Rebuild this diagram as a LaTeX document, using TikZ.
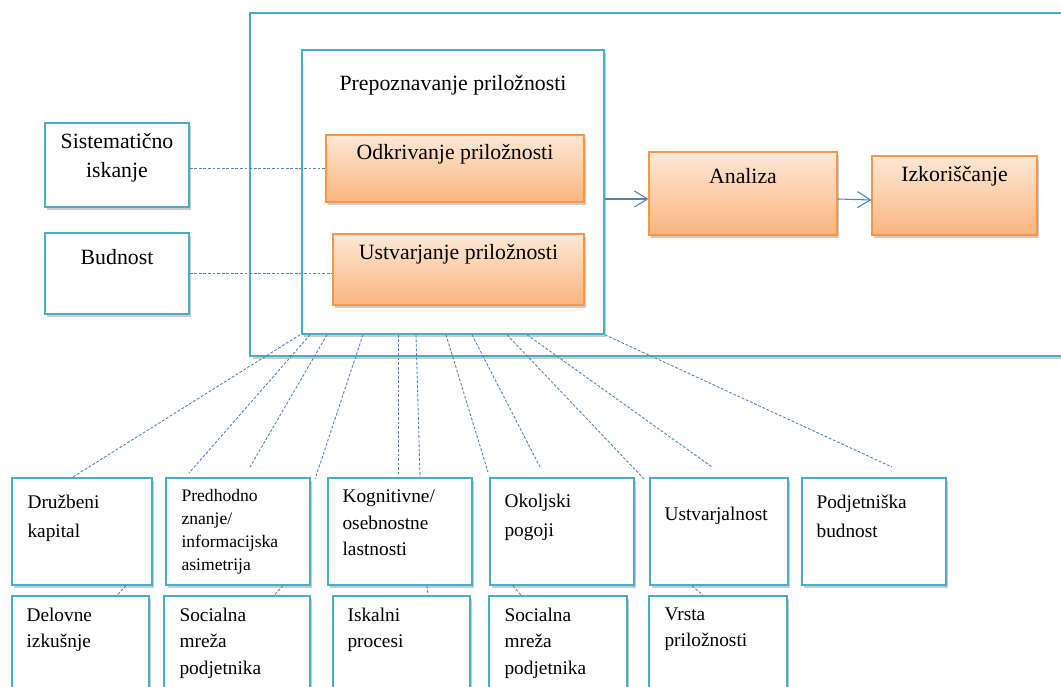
\documentclass[tikz,border=0pt]{standalone}
\usepackage{fontspec}
\setmainfont{Liberation Serif}
\usetikzlibrary{calc,positioning,shadows,arrows.meta}

\definecolor{boxblue}{HTML}{4BACC6}
\definecolor{lineblue}{HTML}{4F81BD}
\definecolor{orangeline}{HTML}{F79646}
\definecolor{peach}{HTML}{FDE8D6}
\definecolor{peachdark}{HTML}{FBB57F}

\begin{document}
\begin{tikzpicture}
[x=0.02cm,y=-0.02cm,>={Straight Barb[length=2.6mm,width=3.2mm]},
 bluebox/.style={draw=boxblue,line width=0.9pt,fill=white,inner sep=0pt,
   drop shadow={shadow xshift=1.4pt,shadow yshift=-1.6pt,opacity=.4}},
 orangebox/.style={draw=orangeline,line width=0.7pt,top color=peach,bottom color=peachdark,inner sep=0pt,
   drop shadow={shadow xshift=1.4pt,shadow yshift=-1.6pt,opacity=.4}},
 toptxt/.style={font=\fontsize{12.4}{16.5}\selectfont,align=center,inner sep=0pt},
 lowtxt/.style={font=\fontsize{11}{15}\selectfont,align=left,inner sep=0pt,anchor=north west},
 link/.style={draw=lineblue,line width=0.5pt,dash pattern=on 1.6pt off 1pt},
 arr/.style={->,draw=lineblue,line width=0.6pt},]
\useasboundingbox (0,0) rectangle (1061,686);

% upper part
\node (frame) at (662.5,184.5)[bluebox,minimum width=16.5cm,minimum height=6.86cm] {};
\node (prep) at (453,192)[bluebox,minimum width=6.04cm,minimum height=5.68cm] {};
\node (prepT) at ($(prep.north)+(0,36)$)[toptxt] {Prepoznavanje priložnosti};
\node (odkr) at (455,168.5)[orangebox,minimum width=5.16cm,minimum height=1.34cm] {};
\node (odkrT) at ($(odkr.north)+(0,20)$)[toptxt] {Odkrivanje priložnosti};
\node (ustv) at (458.5,269.5)[orangebox,minimum width=5.02cm,minimum height=1.42cm] {};
\node (ustvT) at ($(ustv.north)+(0,21)$)[toptxt] {Ustvarjanje priložnosti};

\node (sist) at (117,165)[bluebox,minimum width=2.88cm,minimum height=1.68cm] {};
\node (sistT) at ($(sist.north)+(0,35.5)$)[toptxt] {Sistematično\\iskanje};
\node (budn) at (117,273.5)[bluebox,minimum width=2.88cm,minimum height=1.62cm] {};
\node (budnT) at ($(budn.north)+(0,25)$)[toptxt] {Budnost};

\node (anal) at (743,193.5)[orangebox,minimum width=3.76cm,minimum height=1.66cm] {};
\node (analT) at ($(anal.north)+(0,25)$)[toptxt] {Analiza};
\node (izko) at (954.5,195.5)[orangebox,minimum width=3.3cm,minimum height=1.58cm] {};
\node (izkoT) at ($(izko.north)+(0,21)$)[toptxt] {Izkoriščanje};

\draw[link] (sist.east|-odkr.west)--(odkr.west);
\draw[link] (budn.east)--(ustv.west|-budn.east);
\draw[arr] ($(prep.east|-anal.west)+(0,5.5)$)--($(anal.west)+(0,5.5)$);
\draw[arr] ($(anal.east)+(0,5.5)$)--($(izko.west)+(0,4.5)$);

% lower part
\node (druz) at (82,531.5)[bluebox,minimum width=2.8cm,minimum height=2.14cm] {};
\node (pred) at (238,531.5)[bluebox,minimum width=2.88cm,minimum height=2.14cm] {};
\node (kogn) at (400,531.5)[bluebox,minimum width=2.88cm,minimum height=2.14cm] {};
\node (okol) at (562,531.5)[bluebox,minimum width=2.88cm,minimum height=2.14cm] {};
\node (ustj) at (719,531.5)[bluebox,minimum width=2.76cm,minimum height=2.14cm] {};
\node (podj) at (874,531.5)[bluebox,minimum width=2.88cm,minimum height=2.14cm] {};

\node (delo) at (80.5,648)[bluebox,minimum width=2.74cm,minimum height=2.08cm] {};
\node (soc1) at (237,648)[bluebox,minimum width=2.92cm,minimum height=2.08cm] {};
\node (iska) at (401.5,648)[bluebox,minimum width=2.74cm,minimum height=2.08cm] {};
\node (soc2) at (558,648)[bluebox,minimum width=2.76cm,minimum height=2.08cm] {};
\node (vrst) at (718,648)[bluebox,minimum width=2.76cm,minimum height=2.08cm] {};

\node (druzT) at ([shift={(16,17.4)}]druz.north west)[lowtxt,font=\fontsize{11}{16.5}\selectfont] {Družbeni\\kapital};
\node (predT) at ([shift={(16,12)}]pred.north west)[lowtxt,font=\fontsize{10}{13}\selectfont] {Predhodno\\znanje/\\informacijska\\asimetrija};
\node (kognT) at ([shift={(15,12.4)}]kogn.north west)[lowtxt] {Kognitivne/\\osebnostne\\lastnosti};
\node (okolT) at ([shift={(15,16.4)}]okol.north west)[lowtxt,font=\fontsize{11}{16.5}\selectfont] {Okoljski\\pogoji};
\node (ustjT) at ([shift={(15,29.4)}]ustj.north west)[lowtxt] {Ustvarjalnost};
\node (podjT) at ([shift={(15,17.4)}]podj.north west)[lowtxt,font=\fontsize{11}{16.5}\selectfont] {Podjetniška\\budnost};
\node (deloT) at ([shift={(15,12.4)}]delo.north west)[lowtxt] {Delovne\\izkušnje};
\node (soc1T) at ([shift={(16,12.4)}]soc1.north west)[lowtxt] {Socialna\\mreža\\podjetnika};
\node (iskaT) at ([shift={(15,12.4)}]iska.north west)[lowtxt] {Iskalni\\procesi};
\node (soc2T) at ([shift={(16,12.4)}]soc2.north west)[lowtxt] {Socialna\\mreža\\podjetnika};
\node (vrstT) at ([shift={(16,12.4)}]vrst.north west)[lowtxt] {Vrsta\\priložnosti};

% free ends of the fan
\coordinate (e1) at (73,477);
\coordinate (e2) at (189,473);
\coordinate (e3) at (250,467);
\coordinate (e4) at (315,479);
\coordinate (e5) at (398,474);
\coordinate (e6) at (420,477);
\coordinate (e7) at (488,472);
\coordinate (e8) at (540,467);
\coordinate (e9) at (645,480);
\coordinate (e10) at (712,467);
\coordinate (e11) at (892,467);

\draw[link] (prep.south-|300,0)--(e1);
\draw[link] (prep.south-|310,0)--(e2);
\draw[link] (prep.south-|327,0)--(e3);
\draw[link] (prep.south-|363,0)--(e4);
\draw[link] (prep.south-|398,0)--(e5);
\draw[link] (prep.south-|416,0)--(e6);
\draw[link] (prep.south-|446,0)--(e7);
\draw[link] (prep.south-|472,0)--(e8);
\draw[link] (prep.south-|507,0)--(e9);
\draw[link] (prep.south-|527,0)--(e10);
\draw[link] (prep.south east)--(e11);

\draw[link] (druz.south-|126,0)--(delo.north-|117,0);
\draw[link] (pred.south-|283,0)--(soc1.north-|274,0);
\draw[link] (kogn.south-|427,0)--(iska.north-|428,0);
\draw[link] (okol.south-|513,0)--(soc2.north-|521,0);
\draw[link] (ustj.south-|692,0)--(vrst.north-|703,0);

\end{tikzpicture}
\end{document}
